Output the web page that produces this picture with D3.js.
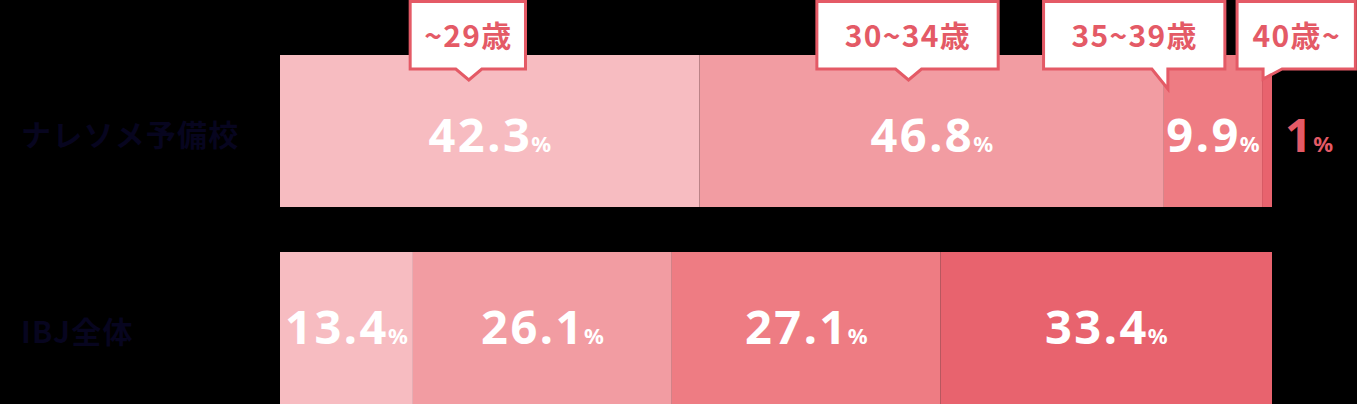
<!DOCTYPE html>
<html>
<head>
<meta charset="utf-8">
<script src="https://cdn.jsdelivr.net/npm/d3@7"></script>
<style>
  html, body { margin: 0; padding: 0; background: #000; }
  svg { display: block; }
</style>
</head>
<body>
<div id="chart"></div>
<script>
// data
var groups = ["ナレソメ予備校", "IBJ全体"];
var ageBands = ["~29歳", "30~34歳", "35~39歳", "40歳~"];
var naresomeShare = [42.3, 46.8, 9.9, 1];
var ibjShare = [13.4, 26.1, 27.1, 33.4];

var colors = ["#f7bcc1", "#f29ca2", "#ee7c83", "#e8636e"];
var red = "#e45a66";

var svgWidth = 1357;
var svgHeight = 404;

var svg = d3.select("#chart")
  .append("svg")
  .attr("width", svgWidth)
  .attr("height", svgHeight);

var x = d3.scaleLinear().domain([0, 100]).range([280, 1272]);
var y = d3.scaleBand().domain(groups).range([55, 404]).paddingInner(0.2284).paddingOuter(0);

// build stacked rows
var rows = [naresomeShare, ibjShare].map(function(vals, r) {
  var acc = 0;
  return vals.map(function(v, i) {
    var seg = { group: groups[r], band: ageBands[i], value: v, x0: acc, x1: acc + v, i: i, row: r };
    acc += v;
    return seg;
  });
});
var segs = rows[0].concat(rows[1]);

// bars
svg.append("g").selectAll("rect")
  .data(segs)
  .enter()
  .append("rect")
    .attr("x", function(d) { return x(d.x0); })
    .attr("y", function(d) { return y(d.group); })
    .attr("width", function(d) { return x(d.x1) - x(d.x0); })
    .attr("height", y.bandwidth())
    .attr("fill", function(d) { return colors[d.i]; });

// row labels
svg.append("g").selectAll("text")
  .data(groups)
  .enter()
  .append("text")
    .attr("x", 21)
    .attr("y", function(d) { return y(d) + y.bandwidth() / 2 + 2; })
    .attr("dominant-baseline", "central")
    .style("font-family", "'Noto Sans CJK JP', sans-serif")
    .style("font-weight", 700)
    .style("font-size", "30px")
    .style("letter-spacing", "1.2px")
    .attr("fill", "#07051f")
    .text(function(d) { return d; });

// value labels
var pct = svg.append("g").selectAll("text")
  .data(segs)
  .enter()
  .append("text")
    .attr("text-anchor", "middle")
    .attr("x", function(d) {
      // too narrow -> put it outside the bar
      if (x(d.x1) - x(d.x0) < 40) return x(d.x1) + 37;
      return (x(d.x0) + x(d.x1)) / 2;
    })
    .attr("y", function(d) { return y(d.group) + y.bandwidth() / 2 + (d.row == 0 ? 21 : 16); })
    .attr("fill", function(d) { return (x(d.x1) - x(d.x0) < 40) ? red : "#fff"; })
    .style("font-family", "'Noto Sans', sans-serif")
    .style("font-weight", 700);
pct.append("tspan")
  .style("font-size", "47px")
  .style("letter-spacing", "2.5px")
  .text(function(d) { return d.value; });
pct.append("tspan")
  .attr("dx", -1)
  .style("font-size", "22px")
  .text("%");

// callouts over the top row
var top0 = y(groups[0]);
var pads = [27, 55, 55, 30];
var callouts = rows[0].map(function(d, i) {
  var w = x(d.x1) - x(d.x0);
  if (i < 2) return { seg: d, tip: x(d.x0) + w * 0.45, kind: "center", pad: pads[i] };
  if (i == 2) return { seg: d, tip: x(d.x0) + 4, kind: "right", pad: pads[i] };
  return { seg: d, tip: x(d.x0) + 1, kind: "left", pad: pads[i] };
});

var boxTop = 1.5, boxBottom = top0 + 14;

var cg = svg.append("g").selectAll("g")
  .data(callouts)
  .enter()
  .append("g");

var labels = cg.append("text")
  .attr("text-anchor", "middle")
  .attr("y", 47)
  .attr("fill", red)
  .style("font-family", "'Noto Sans CJK JP', sans-serif")
  .style("font-weight", 700)
  .style("font-size", "30px")
  .style("letter-spacing", "1.3px")
  .text(function(d) { return d.seg.band; });

labels.each(function(d) {
  var tw = this.getComputedTextLength();
  var bw = tw + d.pad;
  var L, R;
  if (d.kind == "center") { L = d.tip - bw / 2 - 1; }
  else if (d.kind == "right") { L = d.tip + 57 - bw; }
  else { L = d.tip - 26; }
  R = L + bw;
  d.L = L; d.R = R;
  d3.select(this).attr("x", (L + R) / 2 + 0.5);
});

cg.insert("path", "text")
  .attr("d", function(d) {
    var T = boxTop, B = boxBottom, p = d3.path();
    p.moveTo(d.L, T);
    p.lineTo(d.R, T);
    p.lineTo(d.R, B);
    if (d.kind == "center") {
      p.lineTo(d.tip + 13, B);
      p.lineTo(d.tip, B + 11);
      p.lineTo(d.tip - 13, B);
    } else if (d.kind == "right") {
      p.lineTo(d.tip, B);
      p.lineTo(d.tip, B + 20);
      p.lineTo(d.tip - 16, B);
    } else {
      p.lineTo(d.tip + 19, B);
      p.lineTo(d.tip, B + 10);
      p.lineTo(d.tip, B);
    }
    p.lineTo(d.L, B);
    p.closePath();
    return p.toString();
  })
  .attr("fill", "#fff")
  .attr("stroke", red)
  .attr("stroke-width", 3)
  .attr("stroke-linejoin", "miter");
</script>
</body>
</html>
